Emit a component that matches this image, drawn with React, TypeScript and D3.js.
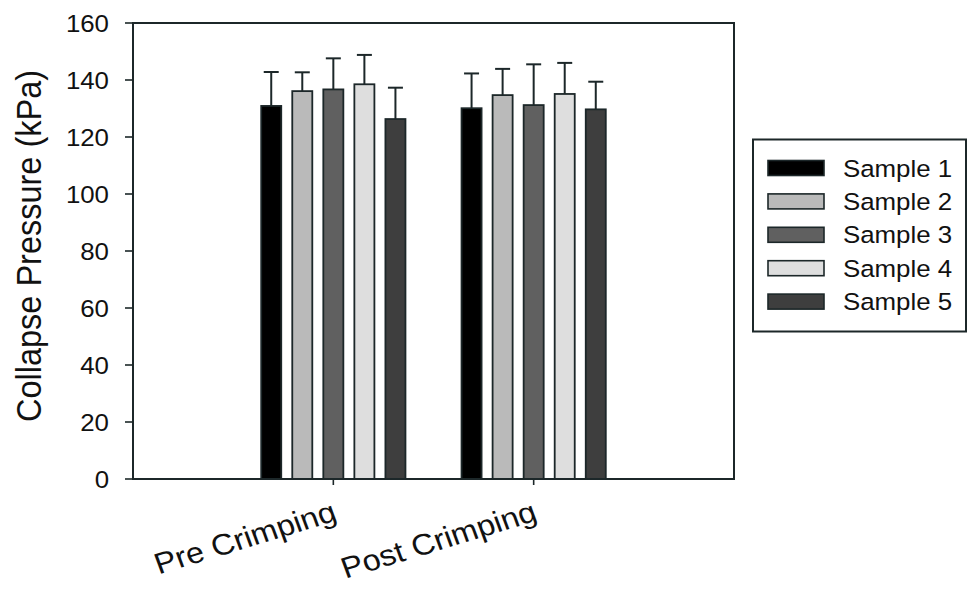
import React from "react";
import * as d3 from "d3";

// Collapse pressure (kPa), mean and upper error bar end, per sample
const groups = ["Pre Crimping", "Post Crimping"];
const samples = ["Sample 1", "Sample 2", "Sample 3", "Sample 4", "Sample 5"];
const preMeans = [130.9, 136.1, 136.7, 138.5, 126.3];
const preErr = [11.9, 6.6, 10.9, 10.3, 11.0];
const postMeans = [130.1, 134.7, 131.2, 135.1, 129.7];
const postErr = [12.2, 9.2, 14.3, 10.9, 9.7];
const fills = ["#000000", "#bababa", "#606060", "#dedede", "#3e3e3e"];
const yTicks = [0, 20, 40, 60, 80, 100, 120, 140, 160];

const W = 968;
const H = 590;
const ink = "#1c2729";
const font = "'Liberation Sans', Arial, sans-serif";
const SX = 1.1; // horizontal stretch of text

export default function App() {
  const x = d3.scaleLinear().domain([0, 3]).range([133, 734]);
  const y = d3.scaleLinear().domain([0, 160]).range([479, 23]);
  const slot = 0.155;
  const barW = 0.1;
  const means = [preMeans, postMeans];
  const errs = [preErr, postErr];

  return (
    <svg
      width={W}
      height={H}
      style={{ position: "absolute", left: 0, top: 0, background: "#fff" }}
      fontFamily={font}
    >
      {/* bars with upper error bars */}
      {groups.map((g, gi) =>
        samples.map((s, si) => {
          const cx = x(gi + 1 + (si - 2) * slot);
          const bw = x(barW) - x(0);
          const x0 = cx - bw / 2;
          const m = means[gi][si];
          const top = y(m + errs[gi][si]);
          return (
            <g key={g + s}>
              <line x1={cx} x2={cx} y1={y(m)} y2={top} stroke={ink} strokeWidth={2} />
              <line x1={cx - 7.5} x2={cx + 7.5} y1={top} y2={top} stroke={ink} strokeWidth={2} />
              <rect
                x={x0}
                y={y(m)}
                width={bw}
                height={y(0) - y(m)}
                fill={fills[si]}
                stroke={ink}
                strokeWidth={1.8}
              />
            </g>
          );
        })
      )}

      {/* plot frame */}
      <rect x={133} y={23} width={601} height={456} fill="none" stroke={ink} strokeWidth={2} />

      {/* y axis ticks and labels */}
      {yTicks.map((t) => (
        <g key={t}>
          <line x1={125} x2={133} y1={y(t)} y2={y(t)} stroke={ink} strokeWidth={1.6} />
          <text
            transform={`translate(109,${y(t) + 8.5}) scale(${SX},1)`}
            textAnchor="end"
            fontSize={23.5}
            fill="#111"
          >
            {t}
          </text>
        </g>
      ))}

      {/* y axis title */}
      <text
        transform={`translate(41,${(y(0) + y(160)) / 2 - 5}) scale(${SX},1) rotate(-90)`}
        textAnchor="middle"
        fontSize={32.5}
        fill="#111"
      >
        Collapse Pressure (kPa)
      </text>

      {/* x axis ticks and category labels */}
      {groups.map((g, gi) => (
        <g key={g}>
          <line x1={x(gi + 1)} x2={x(gi + 1)} y1={479} y2={485} stroke={ink} strokeWidth={1.6} />
          <text
            transform={`translate(${x(gi + 1) + 5},520) scale(${SX},1) rotate(-18.5)`}
            textAnchor="end"
            fontSize={29.5}
            fill="#111"
          >
            {g}
          </text>
        </g>
      ))}

      {/* legend */}
      <rect x={753} y={139.5} width={213} height={192} fill="#fff" stroke={ink} strokeWidth={2} />
      {samples.map((s, si) => {
        const cy = 168 + si * 33.4;
        return (
          <g key={s}>
            <rect x={768} y={cy - 7.5} width={56} height={15} fill={fills[si]} stroke={ink} strokeWidth={1.6} />
            <text
              transform={`translate(843,${cy + 8.5}) scale(${SX},1)`}
              fontSize={23.5}
              fill="#111"
            >
              {s}
            </text>
          </g>
        );
      })}
    </svg>
  );
}
